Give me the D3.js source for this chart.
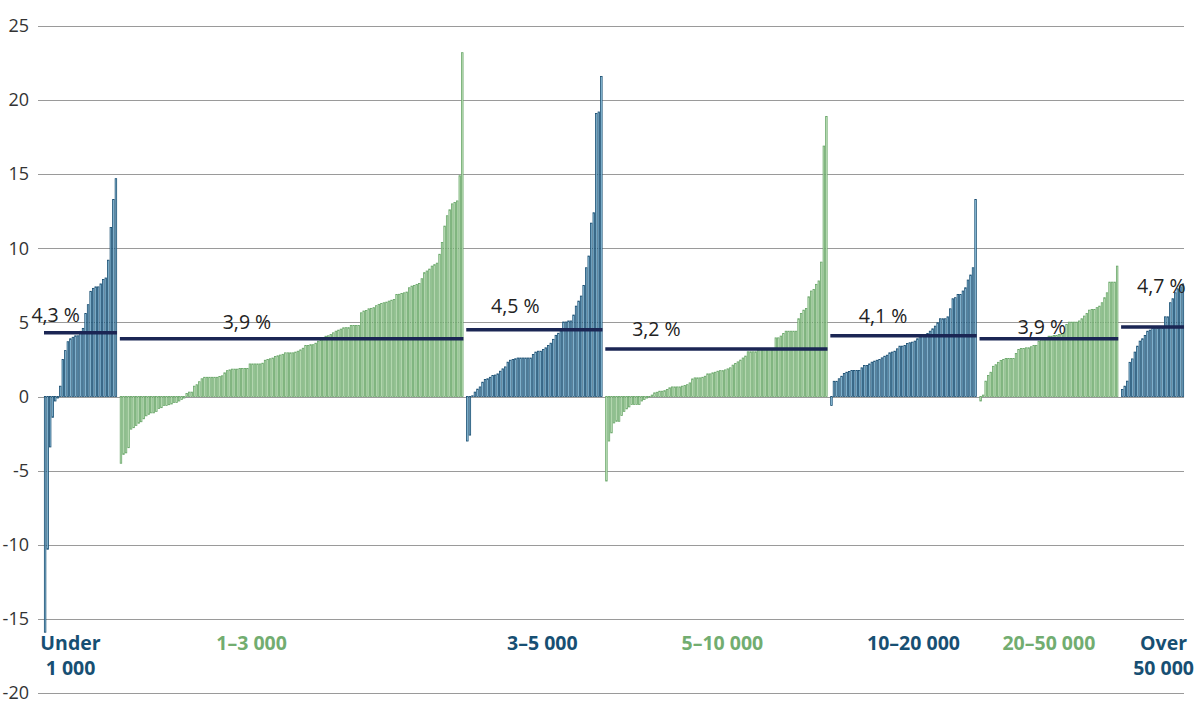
<!DOCTYPE html>
<html>
<head>
<meta charset="utf-8">
<script src="https://cdn.jsdelivr.net/npm/d3@7"></script>
<style>
  html, body { margin: 0; padding: 0; background: #fff; }
  svg { display: block; }
  text { font-family: "Open Sans", "Noto Sans", sans-serif; }
</style>
</head>
<body>
<svg id="chart" width="1200" height="719"></svg>
<script>
// ---------- DATA ----------
const yTicks = [25, 20, 15, 10, 5, 0, -5, -10, -15, -20];

const groupNames = [["Under", "1 000"], ["1–3 000"], ["3–5 000"], ["5–10 000"], ["10–20 000"], ["20–50 000"], ["Over", "50 000"]];
const groupAverages = [4.3, 3.9, 4.5, 3.2, 4.1, 3.9, 4.7];
const averageLabels = ["4,3 %", "3,9 %", "4,5 %", "3,2 %", "4,1 %", "3,9 %", "4,7 %"];

const under1000 = [-15.9, -10.3, -3.4, -1.4, -0.3, -0.1, 0.7, 2.5, 3.1, 3.7, 3.9, 4.0, 4.1, 4.1, 4.4, 4.6, 5.6, 6.2, 7.1, 7.3, 7.4, 7.4, 7.6, 7.9, 8.0, 9.2, 11.4, 13.3, 14.7];

const from1to3000 = [
  -4.5, -3.9, -3.8, -3.45, -2.2, -2.1, -1.95, -1.8, -1.7, -1.5, -1.3, -1.2, -1.1, -1.1, -1.0, -0.8, -0.75, -0.6, -0.6, -0.55, -0.5, -0.4, -0.4, -0.3, -0.2, -0.1,
  0.2, 0.3, 0.3, 0.7, 0.8, 1.0, 1.2, 1.3, 1.3, 1.3, 1.3, 1.3, 1.3, 1.35, 1.4, 1.6,
  1.75, 1.8, 1.85, 1.85, 1.85, 1.9, 1.9, 1.9, 1.9, 2.2, 2.2, 2.2, 2.2, 2.2, 2.25, 2.45, 2.5, 2.55, 2.6, 2.7, 2.75, 2.8, 2.85, 2.95, 2.95, 2.95, 2.95, 3.0, 3.06, 3.15, 3.26,
  3.45, 3.45, 3.5, 3.5, 3.6, 3.74, 3.8, 3.9, 4.07, 4.1, 4.19, 4.3, 4.41, 4.48, 4.55, 4.64, 4.65, 4.65, 4.8, 4.8, 4.8, 4.8, 5.65,
  5.77, 5.8, 5.92, 5.95, 6.0, 6.13, 6.22, 6.28, 6.33, 6.37, 6.44, 6.5, 6.55, 6.89, 6.9, 6.96, 7.0, 7.05, 7.34, 7.45, 7.5, 7.57, 7.63, 7.95, 8.36, 8.47, 8.6, 8.8, 8.9, 9.0, 9.6,
  10.4, 11.5, 12.2, 12.6, 13.0, 13.1, 13.2, 14.9, 23.2
];

const from3to5000 = [-3.0, -2.6, 0.05, 0.3, 0.5, 0.65, 0.97, 1.15, 1.2, 1.3, 1.42, 1.45, 1.53, 1.71, 1.87, 2.0, 2.32, 2.45, 2.5, 2.55, 2.6, 2.6, 2.6, 2.6, 2.6, 2.6, 2.84, 3.0, 3.06, 3.06, 3.18, 3.29, 3.45, 3.6, 3.86, 4.13, 4.27, 4.43, 5.03, 5.03, 5.1, 5.1, 5.5, 6.1, 6.44, 6.78, 7.5, 8.69, 9.48, 11.7, 12.4, 19.1, 19.2, 21.6];

const from5to10000 = [
  -5.7, -3.0, -2.45, -1.78, -1.67, -1.67, -1.28, -1.0, -0.83, -0.7, -0.54, -0.54, -0.54, -0.54, -0.3, -0.2, -0.1, -0.02,
  0.1, 0.25, 0.29, 0.36, 0.36, 0.4, 0.47, 0.59, 0.65, 0.65, 0.65, 0.65, 0.7, 0.74, 0.8, 0.92, 1.19, 1.26, 1.26, 1.26, 1.3, 1.37, 1.53, 1.53, 1.6,
  1.64, 1.71, 1.75, 1.75, 1.8, 1.87, 1.94, 2.12, 2.23, 2.34, 2.46, 2.6, 2.73, 3.02, 3.02, 3.02, 3.02, 3.1, 3.22, 3.22, 3.22, 3.22, 3.22, 3.22,
  3.96, 3.96, 4.08, 4.26, 4.41, 4.41, 4.41, 4.41, 4.41, 5.25, 5.6, 5.83, 5.94, 6.73, 7.12, 7.23, 7.57, 7.8, 9.07, 16.9, 18.9
];

const from10to20000 = [-0.6, 1.03, 1.03, 1.2, 1.37, 1.55, 1.64, 1.69, 1.76, 1.76, 1.76, 1.76, 1.94, 2.09, 2.09, 2.2, 2.32, 2.39, 2.45, 2.5, 2.61, 2.72, 2.79, 2.95, 3.0, 3.06, 3.22, 3.4, 3.4, 3.45, 3.58, 3.63, 3.67, 3.74, 3.9, 4.08, 4.13, 4.19, 4.26, 4.41, 4.57, 4.75, 4.98, 5.25, 5.25, 5.25, 5.38, 5.92, 6.6, 6.67, 6.89, 6.89, 7.12, 7.34, 7.86, 8.2, 8.69, 13.3];

const from20to50000 = [-0.3, 0.1, 1.04, 1.42, 1.64, 2.04, 2.15, 2.31, 2.43, 2.5, 2.57, 2.57, 2.57, 2.57, 2.9, 3.18, 3.24, 3.24, 3.29, 3.29, 3.36, 3.45, 3.45, 3.74, 3.85, 3.85, 3.96, 4.07, 4.07, 4.12, 4.12, 4.19, 4.19, 4.3, 4.86, 5.02, 5.02, 5.02, 5.02, 5.1, 5.25, 5.43, 5.61, 5.83, 5.88, 5.88, 6.0, 6.1, 6.33, 6.67, 7.0, 7.72, 7.72, 7.72, 8.8];

const over50000 = [0.47, 0.7, 1.04, 2.31, 2.54, 3.0, 3.4, 3.74, 3.9, 4.12, 4.41, 4.48, 4.64, 4.64, 4.64, 4.64, 4.64, 5.38, 5.38, 6.33, 6.6, 7.0, 7.27, 7.4, 7.6];

const groupValues = [under1000, from1to3000, from3to5000, from5to10000, from10to20000, from20to50000, over50000];

// ---------- STYLE / LAYOUT ----------
const plot = { left: 44, right: 1184, top: 26, bottom: 693, gridLeft: 38 };
const palette = {
  blue:  { stroke: "#154a6e", fill: "#a6d6ef", text: "#174f73" },
  green: { stroke: "#68a668", fill: "#cde8c7", text: "#72ad70" }
};
const groupTheme = i => (i % 2 === 0 ? palette.blue : palette.green);
// label placement (fraction of group width, px above the average line)
const avgLabelFrac = [0.16, 0.37, 0.36, 0.23, 0.36, 0.45, 0.64];
const avgLabelLift = [18, 17, 24, 20, 20, 12, 41];
const catLabelShift = [-10, -40, 8, 6, 10, 0, 11];

// ---------- BUILD FLAT SLOTS ----------
const slots = [];
const groupSpans = [];
let k = 0;
groupValues.forEach((vals, gi) => {
  if (gi > 0) k++; // one empty slot between groups
  const start = k;
  vals.forEach(v => { slots.push({ slot: k, value: v, group: gi }); k++; });
  groupSpans.push({ start, end: k - 1 });
});
const totalSlots = k;

const svg = d3.select("#chart");

const x = d3.scaleBand()
  .domain(d3.range(totalSlots))
  .range([plot.left, plot.right])
  .paddingInner(0.12)
  .paddingOuter(0);

const y = d3.scaleLinear()
  .domain([-20, 25])
  .range([plot.bottom, plot.top]);

// gridlines
svg.append("g")
  .selectAll("line")
  .data(yTicks)
  .join("line")
  .attr("x1", plot.gridLeft)
  .attr("x2", plot.right)
  .attr("y1", d => Math.round(y(d)) + 0.5)
  .attr("y2", d => Math.round(y(d)) + 0.5)
  .attr("stroke", "#9a9a9a")
  .attr("stroke-width", 1);

// y-axis labels
const yAxis = d3.axisLeft(y).tickValues(yTicks).tickSize(0).tickPadding(0).tickFormat(d => d);
const yg = svg.append("g").attr("transform", `translate(29,0)`).call(yAxis);
yg.select(".domain").remove();
yg.selectAll("text")
  .attr("font-size", 18)
  .attr("fill", "#333")
  .attr("font-family", "'Open Sans', sans-serif");

// bars
const bw = x.bandwidth();
svg.append("g")
  .selectAll("rect")
  .data(slots)
  .join("rect")
  .attr("x", d => x(d.slot) + 0.35)
  .attr("width", Math.max(bw - 0.7, 0.8))
  .attr("y", d => Math.min(y(d.value), y(0)))
  .attr("height", d => Math.abs(y(d.value) - y(0)))
  .attr("fill", d => groupTheme(d.group).fill)
  .attr("stroke", d => groupTheme(d.group).stroke)
  .attr("stroke-width", 0.8);

// average lines
svg.append("g")
  .selectAll("line")
  .data(groupAverages)
  .join("line")
  .attr("x1", (d, i) => x(groupSpans[i].start))
  .attr("x2", (d, i) => x(groupSpans[i].end) + bw)
  .attr("y1", d => y(d))
  .attr("y2", d => y(d))
  .attr("stroke", "#1b2654")
  .attr("stroke-width", 3.5);

// average labels
svg.append("g")
  .selectAll("text")
  .data(groupAverages)
  .join("text")
  .attr("x", (d, i) => {
    const a = x(groupSpans[i].start), b = x(groupSpans[i].end) + bw;
    return a + (b - a) * avgLabelFrac[i];
  })
  .attr("y", (d, i) => y(d) - avgLabelLift[i])
  .attr("dy", "0.35em")
  .attr("text-anchor", "middle")
  .attr("font-size", 19.5)
  .attr("fill", "#222")
  .text((d, i) => averageLabels[i]);

// category labels
const cat = svg.append("g")
  .selectAll("text")
  .data(groupNames)
  .join("text")
  .attr("x", (d, i) => (x(groupSpans[i].start) + x(groupSpans[i].end) + bw) / 2 + catLabelShift[i])
  .attr("y", 650)
  .attr("text-anchor", "middle")
  .attr("font-size", 19.5)
  .attr("font-weight", 700)
  .attr("fill", (d, i) => groupTheme(i).text);
cat.each(function(d) {
  const t = d3.select(this);
  const xx = t.attr("x");
  d.forEach((line, li) => {
    t.append("tspan").attr("x", xx).attr("dy", li === 0 ? 0 : 25).text(line);
  });
});
</script>
</body>
</html>
